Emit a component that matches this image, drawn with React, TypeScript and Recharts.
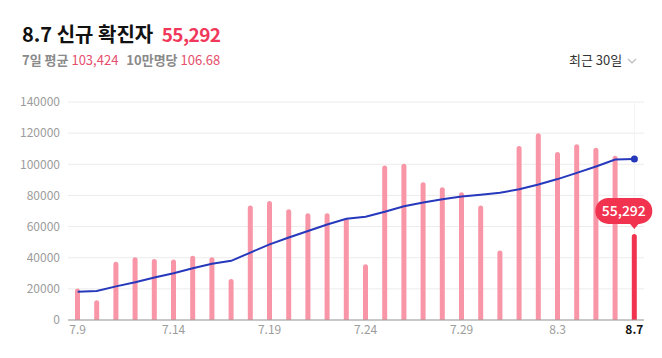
import { Bar, Cell, ComposedChart, CartesianGrid, LabelList, Line, ReferenceLine, XAxis, YAxis } from "recharts";

// Daily new cases, 7.9 ~ 8.7 (30 days)
const dates = [
  "7.9", "7.10", "7.11", "7.12", "7.13", "7.14", "7.15", "7.16", "7.17", "7.18",
  "7.19", "7.20", "7.21", "7.22", "7.23", "7.24", "7.25", "7.26", "7.27", "7.28",
  "7.29", "7.30", "7.31", "8.1", "8.2", "8.3", "8.4", "8.5", "8.6", "8.7",
];
const cases = [
  20280, 12693, 37360, 40266, 39196, 38882, 41310, 40342, 26299, 73582,
  76402, 71170, 68632, 68551, 65433, 35883, 99252, 100285, 88384, 85320,
  81995, 73589, 44689, 111789, 119922, 107894, 112901, 110666, 105507, 55292,
];
const avg7 = [
  18200, 18600, 21600, 24300, 27300, 30000, 33200, 36100, 38000, 43300,
  48600, 53000, 57200, 61300, 65000, 66300, 69500, 73000, 75500, 77500,
  79300, 80500, 81700, 84000, 87000, 90500, 94500, 98600, 103000, 103424,
];
const xTicks = ["7.9", "7.14", "7.19", "7.24", "7.29", "8.3", "8.7"];
const yTicks = [0, 20000, 40000, 60000, 80000, 100000, 120000, 140000];

const data = dates.map((d, i) => ({ d, cases: cases[i], avg: avg7[i] }));
const last = dates.length - 1;

const colors = {
  bar: "#f896a7",
  barLast: "#f2334f",
  line: "#2638bb",
  grid: "#ececec",
  axis: "#9a9a9a",
  tick: "#9c9c9c",
  red: "#f0385a",
};

const font = "'Noto Sans CJK KR', 'Noto Sans', sans-serif";

function Bubble(props: any) {
  const { x, y, width, index, value } = props;
  if (index !== last) return null;
  const cx = x + width / 2;
  const w = 57;
  const h = 26;
  const left = cx - 39;
  const top = y - 36;
  return (
    <g>
      <rect x={left} y={top} width={w} height={h} rx={13} fill={colors.barLast} />
      <path d={`M${cx - 5},${top + h - 1} L${cx},${top + h + 5} L${cx + 5},${top + h - 1} Z`} fill={colors.barLast} />
      <text
        x={left + w / 2}
        y={top + h / 2 + 5}
        textAnchor="middle"
        fill="#fff"
        fontSize={14}
        fontWeight={500}
        fontFamily={font}
      >
        {Number(value).toLocaleString("en-US")}
      </text>
    </g>
  );
}

function XTick(props: any) {
  const { x, y, payload } = props;
  const isLast = payload.value === dates[last];
  return (
    <text
      x={x}
      y={y + 12}
      textAnchor="middle"
      fontSize={12}
      fontFamily={font}
      fill={isLast ? "#111" : colors.tick}
      fontWeight={isLast ? 700 : 400}
    >
      {payload.value}
    </text>
  );
}

export default function App() {
  return (
    <div
      style={{
        position: "absolute",
        left: 0,
        top: 0,
        width: 662,
        height: 358,
        background: "#fff",
        fontFamily: font,
        overflow: "hidden",
      }}
    >
      <div style={{ position: "absolute", left: 22, top: 20, fontSize: 20, fontWeight: 700, color: "#111", whiteSpace: "nowrap", lineHeight: "28px" }}>
        8.7 신규 확진자{" "}
        <span style={{ color: colors.red, marginLeft: 4, fontSize: 19, letterSpacing: -0.6 }}>55,292</span>
      </div>
      <div style={{ position: "absolute", left: 22, top: 50, fontSize: 13, whiteSpace: "nowrap", lineHeight: "20px" }}>
        <span style={{ color: "#8a8a8a", fontWeight: 700 }}>7일 평균</span>{" "}
        <span style={{ color: "#e54e6c" }}>103,424</span>
        <span style={{ color: "#8a8a8a", fontWeight: 700, marginLeft: 8 }}>10만명당</span>{" "}
        <span style={{ color: "#e54e6c" }}>106.68</span>
      </div>
      <div style={{ position: "absolute", left: 569, top: 50, fontSize: 13, color: "#333", whiteSpace: "nowrap", lineHeight: "20px" }}>
        최근 30일
        <svg width={10} height={8} style={{ marginLeft: 5, verticalAlign: "middle" }}>
          <path d="M1,2 L5,6 L9,2" stroke="#bbb" strokeWidth={1.2} fill="none" />
        </svg>
      </div>

      <div style={{ position: "absolute", left: 0, top: 0 }}>
        <ComposedChart
          width={662}
          height={358}
          data={data}
          margin={{ top: 102, right: 18, bottom: 8, left: 0 }}
          barCategoryGap={0}
        >
          <CartesianGrid vertical={false} stroke={colors.grid} />
          <ReferenceLine
            segment={[
              { x: dates[last], y: cases[last] },
              { x: dates[last], y: 140000 },
            ]}
            stroke="#f3f3f3"
          />
          <XAxis
            dataKey="d"
            ticks={xTicks}
            interval={0}
            tick={<XTick />}
            tickLine={false}
            tickSize={0}
            height={30}
            axisLine={{ stroke: colors.axis }}
          />
          <YAxis
            domain={[0, 140000]}
            ticks={yTicks}
            width={68}
            tickLine={false}
            tickSize={0}
            tickMargin={8}
            axisLine={false}
            tick={{ fill: colors.tick, fontSize: 12, fontFamily: font }}
          />
          <Bar dataKey="cases" barSize={5} radius={[2.5, 2.5, 0, 0]} isAnimationActive={false}>
            {data.map((_, i) => (
              <Cell key={i} fill={i === last ? colors.barLast : colors.bar} />
            ))}
            <LabelList dataKey="cases" content={<Bubble />} />
          </Bar>
          <Line
            dataKey="avg"
            type="linear"
            stroke={colors.line}
            strokeWidth={2}
            dot={(p: any) =>
              p.index === last ? (
                <circle key="end" cx={p.cx} cy={p.cy} r={3.5} fill={colors.line} />
              ) : (
                <g key={p.index} />
              )
            }
            isAnimationActive={false}
          />
        </ComposedChart>
      </div>
    </div>
  );
}
